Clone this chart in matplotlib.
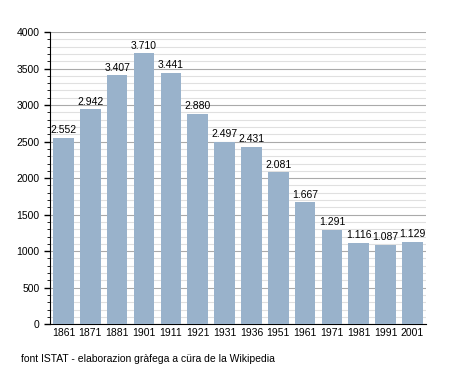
import matplotlib
matplotlib.use('Agg')
import matplotlib.pyplot as plt
from matplotlib.ticker import MultipleLocator

years = ['1861', '1871', '1881', '1901', '1911', '1921', '1931',
         '1936', '1951', '1961', '1971', '1981', '1991', '2001']
population = [2552, 2942, 3407, 3710, 3441, 2880, 2497,
              2431, 2081, 1667, 1291, 1116, 1087, 1129]

plt.rcParams['font.family'] = ['Liberation Sans', 'DejaVu Sans']

fig = plt.figure(figsize=(4.55, 3.73), dpi=100)
ax = fig.add_axes([0.11, 0.131, 0.826, 0.783])

x = range(len(years))
ax.bar(x, population, width=0.77, color='#99b2cb', zorder=3)

# value labels, italian style thousands separator
for i, v in enumerate(population):
    label = f'{v:,}'.replace(',', '.')
    ax.text(i, v + 35, label, ha='center', va='bottom', fontsize=7.5, zorder=4)

ax.set_xlim(-0.5, len(years) - 0.5)
ax.set_ylim(0, 4000)
ax.set_xticks(list(x))
ax.set_xticklabels(years, fontsize=7.5)
ax.yaxis.set_major_locator(MultipleLocator(500))
ax.yaxis.set_minor_locator(MultipleLocator(100))
ax.tick_params(axis='y', labelsize=7.5, length=4, width=1)
ax.tick_params(axis='y', which='minor', length=2)
ax.tick_params(axis='x', length=0, pad=3)

ax.grid(axis='y', which='minor', color='#e0e0e0', linewidth=0.8, zorder=0)
ax.grid(axis='y', which='major', color='#aaaaaa', linewidth=0.8, zorder=1)

for side in ('top', 'right'):
    ax.spines[side].set_visible(False)

fig.text(0.046, 0.03, 'font ISTAT - elaborazion gràfega a cüra de la Wikipedia', fontsize=7.5)

fig.savefig('out.png', dpi=100)
